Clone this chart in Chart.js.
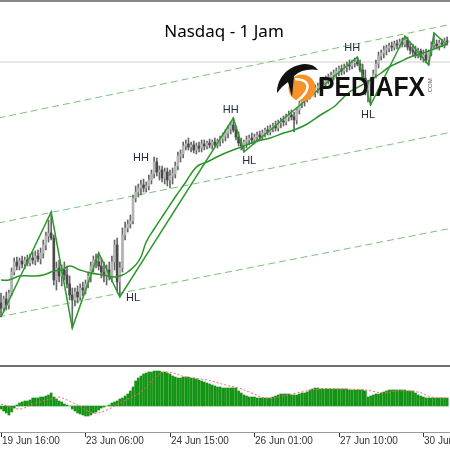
<!DOCTYPE html>
<html><head><meta charset="utf-8">
<script src="https://cdn.jsdelivr.net/npm/chart.js@4.4.1/dist/chart.umd.min.js"></script>
<style>
html,body{margin:0;padding:0;background:#fff;width:450px;height:450px;overflow:hidden}
#w1{position:absolute;left:0;top:0;width:450px;height:365px}
#w2{position:absolute;left:0;top:365px;width:450px;height:85px}
</style></head><body>
<div id="w1"><canvas id="c1"></canvas></div>
<div id="w2"><canvas id="c2"></canvas></div>
<script>
const chartTitle = 'Nasdaq - 1 Jam';
const tickIdx = [0, 32, 64, 96, 128, 160];
const tickLabels = ['19 Jun 16:00', '23 Jun 06:00', '24 Jun 15:00', '26 Jun 01:00', '27 Jun 10:00', '30 Jun 19:00'];

const opens = [
9997,9992,10001,9995,10007,10028,10038,10034,10039,10036,
10040,10037,10042,10040,10044,10041,10047,10055,10064,10067,
10062,10020,10032,10024,10030,10025,10016,10005,10000,10008,
10003,10012,10010,10016,10024,10034,10040,10038,10034,10028,
10024,10030,10023,10038,10055,10018,10032,10065,10072,10076,
10079,10102,10108,10112,10115,10112,10114,10120,10126,10138,
10128,10130,10122,10128,10120,10124,10126,10134,10144,10146,
10154,10156,10153,10155,10150,10154,10152,10156,10154,10157,
10155,10158,10155,10159,10161,10164,10167,10171,10175,10170,
10163,10157,10154,10158,10160,10162,10160,10163,10165,10163,
10167,10170,10168,10172,10174,10172,10177,10179,10178,10183,
10185,10183,10180,10190,10197,10200,10203,10205,10209,10207,
10212,10214,10218,10216,10221,10223,10225,10227,10229,10231,
10229,10233,10235,10234,10237,10238,10236,10230,10222,10210,
10215,10218,10226,10236,10244,10247,10250,10252,10254,10253,
10256,10255,10258,10256,10260,10253,10250,10248,10245,10249,
10243,10245,10240,10248,10255,10256,10254,10257,10256,10259];
const highs = [
10007,10004,10008,10010,10032,10042,10043,10042,10044,10043,
10045,10046,10048,10049,10050,10052,10060,10068,10080,10088,
10065,10038,10040,10035,10038,10034,10024,10012,10012,10014,
10016,10018,10020,10028,10038,10044,10046,10047,10042,10038,
10035,10038,10044,10060,10062,10038,10072,10078,10080,10085,
10105,10114,10116,10120,10121,10118,10125,10130,10143,10142,
10134,10134,10132,10132,10130,10132,10138,10148,10150,10158,
10160,10162,10158,10159,10157,10158,10160,10160,10159,10161,
10160,10162,10161,10164,10167,10170,10174,10178,10182,10174,
10168,10162,10160,10164,10165,10167,10166,10168,10169,10170,
10172,10174,10175,10177,10179,10180,10182,10184,10186,10189,
10190,10188,10192,10200,10204,10206,10208,10212,10214,10215,
10217,10221,10223,10224,10226,10228,10230,10232,10234,10235,
10236,10238,10240,10240,10242,10243,10240,10236,10230,10220,
10222,10230,10240,10248,10250,10254,10255,10257,10258,10259,
10260,10261,10262,10264,10263,10258,10256,10254,10252,10251,
10250,10251,10250,10258,10267,10260,10260,10261,10262,10263];
const lows = [
9983,9988,9990,9991,10004,10025,10030,10030,10032,10031,
10034,10034,10036,10035,10038,10036,10042,10050,10058,10060,
10015,10010,10018,10014,10020,10012,10000,9972,9994,9997,
10000,10004,10006,10012,10018,10028,10032,10030,10022,10018,
10015,10020,10018,10030,10008,10003,10028,10060,10068,10072,
10076,10098,10103,10105,10108,10108,10110,10116,10122,10124,
10120,10118,10116,10114,10112,10116,10122,10130,10138,10142,
10150,10150,10148,10147,10146,10148,10148,10150,10151,10152,
10151,10153,10152,10154,10157,10159,10162,10166,10168,10160,
10154,10150,10148,10152,10155,10156,10156,10158,10159,10160,
10163,10165,10165,10168,10169,10169,10172,10174,10175,10179,
10180,10168,10176,10186,10192,10194,10198,10201,10204,10203,
10207,10210,10213,10212,10216,10218,10220,10222,10224,10225,
10226,10228,10230,10231,10233,10234,10228,10218,10205,10198,
10195,10212,10222,10232,10240,10242,10245,10248,10249,10250,
10251,10252,10253,10253,10250,10246,10244,10242,10242,10240,
10238,10237,10235,10244,10252,10251,10250,10253,10252,10255];
const closes = [
9992,10001,9995,10007,10028,10038,10034,10039,10036,10040,
10037,10042,10040,10044,10041,10047,10055,10064,10067,10062,
10020,10032,10024,10030,10025,10016,10005,10000,10008,10003,
10012,10010,10016,10024,10034,10040,10038,10034,10028,10024,
10030,10023,10038,10055,10018,10032,10065,10072,10076,10079,
10102,10108,10112,10115,10112,10114,10120,10126,10138,10128,
10130,10122,10128,10120,10124,10126,10134,10144,10146,10154,
10156,10153,10155,10150,10154,10152,10156,10154,10157,10155,
10158,10155,10159,10161,10164,10167,10171,10175,10170,10163,
10157,10154,10158,10160,10162,10160,10163,10165,10163,10167,
10170,10168,10172,10174,10172,10177,10179,10178,10183,10185,
10183,10180,10190,10197,10200,10203,10205,10209,10207,10212,
10214,10218,10216,10221,10223,10225,10227,10229,10231,10229,
10233,10235,10234,10237,10238,10236,10230,10222,10210,10215,
10218,10226,10236,10244,10247,10250,10252,10254,10253,10256,
10255,10258,10256,10260,10253,10250,10248,10245,10249,10243,
10245,10240,10248,10255,10256,10254,10257,10256,10259,10258];

const zigzagIdx = [0, 19, 27, 37, 45, 88, 92, 135, 140, 153, 162, 164, 169];
const zigzagVal = [9983, 10088, 9972, 10047, 10003, 10182, 10148, 10243, 10195, 10264, 10235, 10267, 10255];

const maIdx = [0,3,7,12,16,20,23,26,30,34,39,43,46,48,51,53,55,58,62,66,70,73,75,78,81,85,90,97,102,107,111,116,121,126,128,132,136,140,144,147,151,155,159,162,166,169];
const maVal = [10020,10020,10024,10024,10025,10029,10030,10034,10030,10027,10025,10023,10025,10028,10035,10043,10058,10071,10087,10103,10118,10130,10135,10138,10142,10147,10152,10159,10162,10167,10170,10176,10185,10193,10198,10208,10214,10220,10227,10233,10238,10243,10246,10249,10253,10256];

const channelIdx = [-1, 171];
const channelTop = [10182, 10276];
const channelMid = [10077, 10168];
const channelBot = [9983, 10072];
const levelVal = [10238, 10238];

const swingText = ['HH', 'HL', 'HH', 'HL', 'HH', 'HL'];
const swingIdx = [53, 50, 87, 94, 133, 139];
const swingVal = [10142, 10002, 10190, 10139, 10252, 10185];

const macdHist = [
-3,-5,-7,-9,-6,-2,1,3,4,5,
5,6,8,8,8,9,9,10,11,13,
9,7,5,4,2,1,0,-3,-5,-7,
-8,-9,-10,-10,-9,-7,-6,-4,-2,-1,
0,1,3,4,5,7,8,10,12,15,
19,25,28,30,32,33,34,34,35,35,
35,34,34,33,32,30,29,28,28,29,
29,29,28,28,27,26,25,24,23,22,
21,20,19,19,18,18,18,18,18,18,
15,13,11,10,9,9,9,8,8,8,
8,8,8,9,10,11,12,12,12,12,
11,11,11,12,13,13,14,16,17,18,
18,17,17,17,17,17,17,17,17,17,
17,17,16,16,16,16,16,16,15,9,
10,11,12,12,13,14,15,16,16,16,
16,16,16,16,15,15,15,13,11,10,
9,8,8,8,8,8,8,8,8,8];
const signalIdx = [0,7,12,20,22,29,35,40,45,53,59,63,70,78,85,90,95,100,105,112,120,128,138,145,150,158,163,169];
const signalVal = [2,-3,2,8,9,1,-7,-4,3,14,30,34,29,26,21,18,13,8,9,13,17,17,16,13,15,14,9,8];

const xMin = -0.38, xMax = 170.07;
const priceMin = 9935, priceMax = 10300;
const macdMin = -26, macdMax = 39;

const pts = (xs, ys) => xs.map((x, k) => ({x: x, y: ys[k]}));
const bars = closes.map((c, i) => i);

const mainDecor = {
  id: 'mainDecor',
  afterDraw(chart) {
    const ctx = chart.ctx, xs = chart.scales.x, ys = chart.scales.y;
    ctx.save();
    ctx.fillStyle = '#888';
    ctx.fillRect(0, 0, chart.width, 2);
    ctx.fillStyle = '#222a3a';
    ctx.font = '11px "Liberation Sans", Arial, sans-serif';
    ctx.textAlign = 'center';
    ctx.textBaseline = 'middle';
    swingText.forEach((t, k) => {
      ctx.fillText(t, xs.getPixelForValue(swingIdx[k]), ys.getPixelForValue(swingVal[k]));
    });
    ctx.fillStyle = '#000';
    ctx.font = '17px "Noto Sans", sans-serif';
    ctx.textBaseline = 'alphabetic';
    ctx.fillText(chartTitle, 224, 37);
    ctx.fillStyle = '#f5922a';
    ctx.beginPath(); ctx.arc(302, 88, 13.5, 0, Math.PI * 2); ctx.fill();
    ctx.strokeStyle = '#fff'; ctx.lineWidth = 2.5;
    ctx.beginPath(); ctx.moveTo(295, 79); ctx.quadraticCurveTo(312, 80, 306, 92); ctx.quadraticCurveTo(302, 98, 297, 101); ctx.stroke();
    ctx.fillStyle = '#111';
    ctx.beginPath();
    ctx.moveTo(277, 93);
    ctx.bezierCurveTo(277, 77, 289, 65, 305, 64);
    ctx.quadraticCurveTo(314, 64, 318, 70);
    ctx.quadraticCurveTo(303, 68, 294, 76);
    ctx.lineTo(292, 97);
    ctx.lineTo(288, 82);
    ctx.quadraticCurveTo(282, 86, 277, 93);
    ctx.fill();
    ctx.font = 'bold 28px "Liberation Sans", Arial, sans-serif';
    ctx.textAlign = 'left';
    const w = ctx.measureText('PEDIAFX').width;
    ctx.save();
    ctx.translate(318, 96);
    ctx.scale(107 / w, 1);
    ctx.fillText('PEDIAFX', 0, 0);
    ctx.restore();
    ctx.save();
    ctx.translate(432, 94);
    ctx.rotate(-Math.PI / 2);
    ctx.font = '6px "Liberation Sans", Arial, sans-serif';
    ctx.fillStyle = '#555';
    ctx.fillText('.COM', 0, 0);
    ctx.restore();
    ctx.restore();
  }
};

new Chart(document.getElementById('c1'), {
  type: 'bar',
  data: {
    datasets: [
      {type: 'line', data: pts(channelIdx, levelVal), borderColor: '#cfcfcf', borderWidth: 1, pointRadius: 0, order: 10},
      {type: 'line', data: pts(channelIdx, channelTop), borderColor: '#79c279', borderWidth: 1, borderDash: [7, 4], pointRadius: 0, order: 9},
      {type: 'line', data: pts(channelIdx, channelMid), borderColor: '#79c279', borderWidth: 1, borderDash: [7, 4], pointRadius: 0, order: 9},
      {type: 'line', data: pts(channelIdx, channelBot), borderColor: '#79c279', borderWidth: 1, borderDash: [7, 4], pointRadius: 0, order: 9},
      {type: 'bar', data: bars.map(i => ({x: i, y: [lows[i], highs[i]]})), backgroundColor: '#666', barThickness: 1, grouped: false, order: 8},
      {type: 'bar', data: bars.map(i => ({x: i, y: [opens[i], closes[i]]})), backgroundColor: bars.map(i => closes[i] >= opens[i] ? '#b4b4b4' : '#4a4a4a'), barThickness: 2, minBarLength: 1, grouped: false, order: 7},
      {type: 'line', data: pts(maIdx, maVal), borderColor: '#2a942a', borderWidth: 1.5, pointRadius: 0, tension: 0.4, order: 6},
      {type: 'line', data: pts(zigzagIdx, zigzagVal), borderColor: '#2a9a2a', borderWidth: 1.5, pointRadius: 0, tension: 0, order: 5}
    ]
  },
  options: {
    responsive: true, maintainAspectRatio: false, animation: false, devicePixelRatio: 1, events: [],
    layout: {padding: 0},
    plugins: {legend: {display: false}, tooltip: {enabled: false}, title: {display: false}},
    scales: {
      x: {type: 'linear', min: xMin, max: xMax, display: false, offset: false},
      y: {type: 'linear', min: priceMin, max: priceMax, display: false}
    }
  },
  plugins: [mainDecor]
});

const macdDecor = {
  id: 'macdDecor',
  afterDraw(chart) {
    const ctx = chart.ctx, a = chart.chartArea, xs = chart.scales.x;
    ctx.save();
    ctx.fillStyle = '#6e6e6e';
    ctx.fillRect(0, 0, chart.width, 2);
    ctx.fillStyle = '#999';
    ctx.fillRect(0, a.bottom, chart.width, 1);
    ctx.fillStyle = '#333';
    ctx.font = '10px "Liberation Sans", Arial, sans-serif';
    ctx.textAlign = 'left';
    ctx.textBaseline = 'alphabetic';
    tickIdx.forEach((t, k) => {
      const px = Math.round(xs.getPixelForValue(t));
      ctx.fillRect(px, a.bottom + 1, 1, 4);
      ctx.fillText(tickLabels[k], px + 1, a.bottom + 12);
    });
    ctx.restore();
  }
};

new Chart(document.getElementById('c2'), {
  type: 'bar',
  data: {
    datasets: [
      {type: 'line', data: pts(signalIdx, signalVal), borderColor: '#ff6262', borderWidth: 1, borderDash: [2, 2], pointRadius: 0, tension: 0.4, order: 1},
      {type: 'bar', data: macdHist.map((v, i) => ({x: i, y: v})), backgroundColor: '#149414', barThickness: 2, grouped: false, order: 2}
    ]
  },
  options: {
    responsive: true, maintainAspectRatio: false, animation: false, devicePixelRatio: 1, events: [],
    layout: {padding: {top: 2, bottom: 18, left: 0, right: 0}},
    plugins: {legend: {display: false}, tooltip: {enabled: false}, title: {display: false}},
    scales: {
      x: {type: 'linear', min: xMin, max: xMax, display: false, offset: false},
      y: {type: 'linear', min: macdMin, max: macdMax, display: false}
    }
  },
  plugins: [macdDecor]
});
</script>
</body></html>
